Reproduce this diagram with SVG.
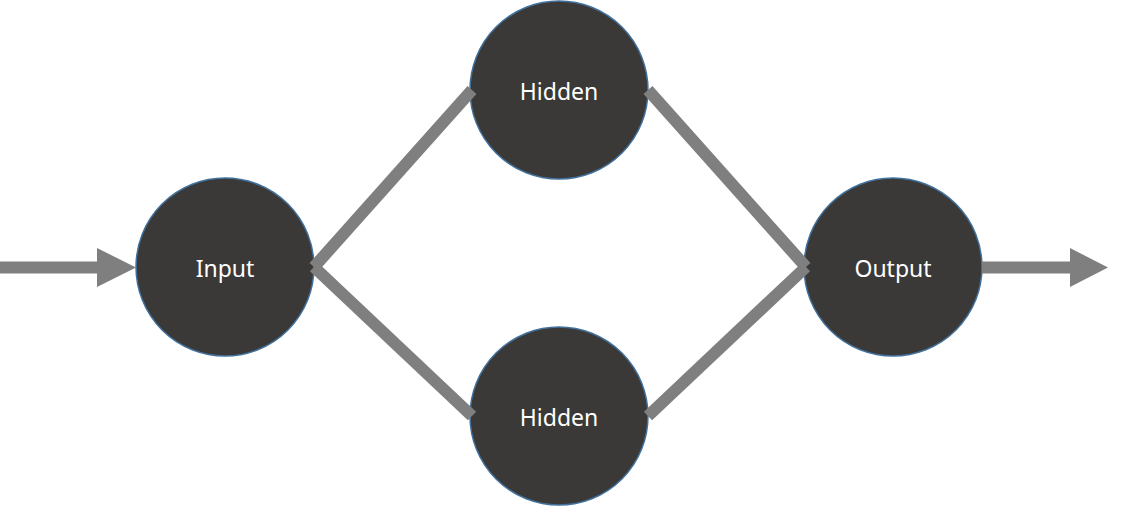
<svg xmlns="http://www.w3.org/2000/svg" width="1148" height="506" viewBox="0 0 1148 506">
<style>
.node circle{fill:#3a3938;stroke:#41719c;stroke-width:1.5}
.node text{fill:#ffffff;font-family:"Noto Sans","Open Sans","DejaVu Sans",sans-serif;font-size:23px;text-anchor:middle;dominant-baseline:central}
.edge{stroke:#7f7f7f;stroke-width:12;fill:none;stroke-linecap:butt}
.head{fill:#7f7f7f}
</style>
<rect width="1148" height="506" fill="#ffffff"/>
<g id="input" class="node"><circle cx="225" cy="267" r="89"/><text x="225" y="268">Input</text></g>
<g id="hidden1" class="node"><circle cx="559" cy="90" r="89"/><text x="559" y="91">Hidden</text></g>
<g id="hidden2" class="node"><circle cx="559" cy="416" r="89"/><text x="559" y="417">Hidden</text></g>
<g id="output" class="node"><circle cx="893" cy="267" r="89"/><text x="893" y="268">Output</text></g>
<g id="connectors">
<line class="edge" x1="0" y1="267.5" x2="98" y2="267.5"/>
<polygon class="head" points="97,248 136,267.5 97,287"/>
<line class="edge" x1="982" y1="267.5" x2="1071" y2="267.5"/>
<polygon class="head" points="1070,248 1108,267.5 1070,287"/>
<line class="edge" x1="314" y1="267" x2="472" y2="90"/>
<line class="edge" x1="314" y1="267" x2="472" y2="416"/>
<line class="edge" x1="648" y1="90" x2="806" y2="267"/>
<line class="edge" x1="648" y1="416" x2="806" y2="267"/>
</g>
</svg>
